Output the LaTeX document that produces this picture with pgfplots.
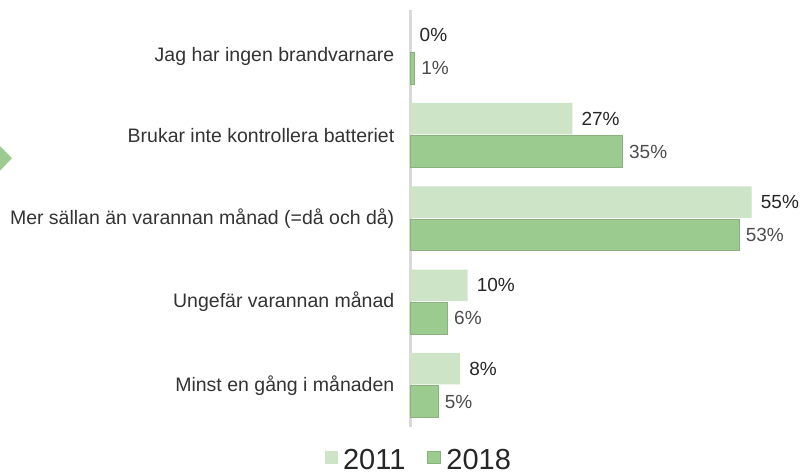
\documentclass[border=0pt]{standalone}
\usepackage{fontspec}
\setmainfont{Liberation Sans}
\usepackage{pgfplots}
\pgfplotsset{compat=1.18}
\definecolor{cA}{HTML}{CDE4C6}
\definecolor{cB}{HTML}{9CCB8F}
\definecolor{cBd}{HTML}{8AB27E}
\definecolor{axgray}{HTML}{D9D9D9}
\definecolor{txt}{HTML}{333333}
\begin{document}
\begin{tikzpicture}[x=1pt,y=1pt]
\path[use as bounding box] (0,0) rectangle (803,474);
\fill[cB] (0,328) -- (12,315.7) -- (0,303.3) -- cycle;
\begin{axis}[
  at={(410.5pt,47.1pt)}, anchor=south west,
  scale only axis, width=341.2pt, height=416.7pt,
  xmin=0, xmax=55, ymin=-0.5, ymax=4.5,
  axis x line=none, axis y line=left,
  y axis line style={-, draw=axgray, line width=2.5pt},
  ytick={0,1,2,3,4},
  yticklabels={Minst en gång i månaden, Ungefär varannan månad, Mer sällan än varannan månad (=då och då), Brukar inte kontrollera batteriet, \raisebox{-5pt}[\height][\depth]{Jag har ingen brandvarnare}},
  major tick length=0pt,
  yticklabel style={font=\fontsize{19.5}{22}\selectfont, text=txt, inner sep=0pt, xshift=-16pt},
  xbar, bar width=31.5pt,
  clip=false,
  point meta=explicit symbolic,
  nodes near coords,
  nodes near coords style={anchor=west, inner sep=0pt, font=\fontsize{19}{22}\selectfont},
  legend columns=2,
  legend image code/.code={\path[#1] (0pt,-3.6pt) rectangle (13pt,8.7pt);},
  legend style={at={(0.025,-0.1106)}, anchor=south, draw=none, fill=none, inner sep=0pt,
    font=\fontsize{29}{31}\selectfont, text=black!85,
    /tikz/every odd column/.append style={column sep=3pt},
    /tikz/every even column/.append style={column sep=20pt}},
]
\addplot[xbar, bar shift=16.5pt, fill=cA, draw=none,
  every node near coord/.append style={xshift=9pt, text=black!85}]
  coordinates {(8.0,0) [8\%] (9.2,1) [10\%] (55,2) [55\%] (26.1,3) [27\%] (0,4) [0\%]};
\addlegendentry{2011}
\addplot[xbar, bar shift=-16.5pt, fill=cB, draw=cBd, line width=1pt,
  every node near coord/.append style={xshift=6pt, text=black!70}]
  coordinates {(4.5,0) [5\%] (6.0,1) [6\%] (53,2) [53\%] (34.2,3) [35\%] (0.7,4) [1\%]};
\addlegendentry{2018}
\end{axis}
\end{tikzpicture}
\end{document}
